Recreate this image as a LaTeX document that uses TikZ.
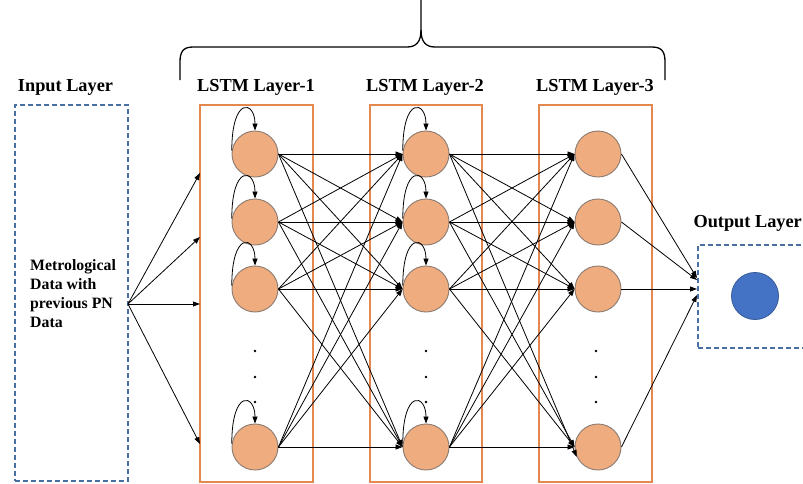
\documentclass[tikz,border=0pt]{standalone}
\usepackage{fontspec}
\setmainfont{Liberation Serif}
\usetikzlibrary{arrows.meta}
\definecolor{boxorange}{HTML}{E3894F}
\definecolor{cellfill}{HTML}{EFAC7F}
\definecolor{celledge}{HTML}{8A7A70}
\definecolor{dashblue}{HTML}{4A6FA5}
\definecolor{outfill}{HTML}{4472C4}
\definecolor{outedge}{HTML}{3A5F9F}
\begin{document}
\begin{tikzpicture}[x=1pt,y=-1pt,
  cell/.style={circle, draw=celledge, line width=0.9pt, fill=cellfill, minimum size=46pt, inner sep=0pt},
  layerbox/.style={draw=boxorange, line width=1.6pt, inner sep=0pt},
  dashbox/.style={draw=dashblue, line width=1.4pt, dash pattern=on 5pt off 3pt, inner sep=0pt},
  head/.style={font=\bfseries\fontsize{18.3}{21}\selectfont, inner sep=0pt},
  link/.style={-{Triangle[length=7pt,width=5pt]}, line width=0.8pt},
  dotmark/.style={circle, fill=black, inner sep=0pt, minimum size=2.6pt},
  bracket/.style={line width=1.3pt}
]
\useasboundingbox (0,0) rectangle (803,483);

% headings
\node[head] (hin) at (65.5,87) {Input Layer};
\node[head] (h1) at (256,87) {LSTM Layer-1};
\node[head] (h2) at (425,87) {LSTM Layer-2};
\node[head] (h3) at (595,87) {LSTM Layer-3};
\node[head, anchor=east] (hout) at (802,223) {Output Layer};

% brace over the three LSTM layers
\draw[bracket] (180,80) -- (180,62) .. controls (180,52) and (183,47) .. (193,47)
  -- (407,47) .. controls (416,47) and (421,42) .. (421,30) -- (421,-2);
\draw[bracket] (421,30) .. controls (421,42) and (426,47) .. (435,47)
  -- (652,47) .. controls (662,47) and (665,52) .. (665,62) -- (665,80);

% input block
\node[dashbox, minimum width=113pt, minimum height=376pt] (inbox) at (71.5,293) {};
\node[anchor=west, align=left, inner sep=0pt, font=\bfseries\fontsize{15.8}{19}\selectfont]
  (intext) at (30,294) {Metrological\\Data with\\previous PN\\Data};

% LSTM layer frames
\node[layerbox, minimum width=113pt, minimum height=377pt] (box1) at (256.5,293.5) {};
\node[layerbox, minimum width=112pt, minimum height=377pt] (box2) at (426,293.5) {};
\node[layerbox, minimum width=113pt, minimum height=377pt] (box3) at (595.5,293.5) {};

% cells
\foreach \n/\y in {1/154,2/222,3/289,4/447} {
  \node[cell] (a\n) at (255,\y) {};
  \node[cell] (b\n) at (426,\y) {};
  \node[cell] (c\n) at (598,\y) {};
}
\foreach \x/\l in {255/a,426/b,596/c}
  \foreach \y/\k in {351/1,377/2,402/3}
    \node[dotmark] (\l dot\k) at (\x,\y) {};

% output block
\node[dashbox, minimum width=120pt, minimum height=103pt] (outbox) at (758,296.5) {};
\node[circle, draw=outedge, line width=0.9pt, fill=outfill, minimum size=47pt, inner sep=0pt] (y) at (755,296) {};

% recurrent self loops
\foreach \l in {a,b}
  \foreach \n in {1,...,4}
    \draw[link] (\l\n.172) .. controls +(0,-55) and +(0,-30) .. (\l\n.north);

% input fan-out
\coordinate (src) at (128,304);
\coordinate (e1) at (200,173);
\coordinate (e2) at (200,237);
\coordinate (e3) at (200,304);
\coordinate (e4) at (200,444);
\foreach \n in {1,...,4}
  \draw[link] (src) -- (e\n);

% dense links between layers
\foreach \s in {1,...,4}
  \foreach \t in {1,...,4} {
    \draw[link] (a\s.east) -- (b\t.west);
  }
\foreach \s/\t in {1/1,1/2,1/3,2/1,2/2,2/3,2/4,3/1,3/2,3/3,3/4,4/1,4/2,4/3,4/4}
  \draw[link] (b\s.east) -- (c\t.west);
\draw[link] (b1.east) -- (c4.205);

% links into the output block
\coordinate (o1) at (697,278);
\coordinate (o2) at (697,280);
\coordinate (o3) at (697,289);
\coordinate (o4) at (697,295);
\foreach \n in {1,...,4}
  \draw[link] (c\n.east) -- (o\n);
\end{tikzpicture}
\end{document}
